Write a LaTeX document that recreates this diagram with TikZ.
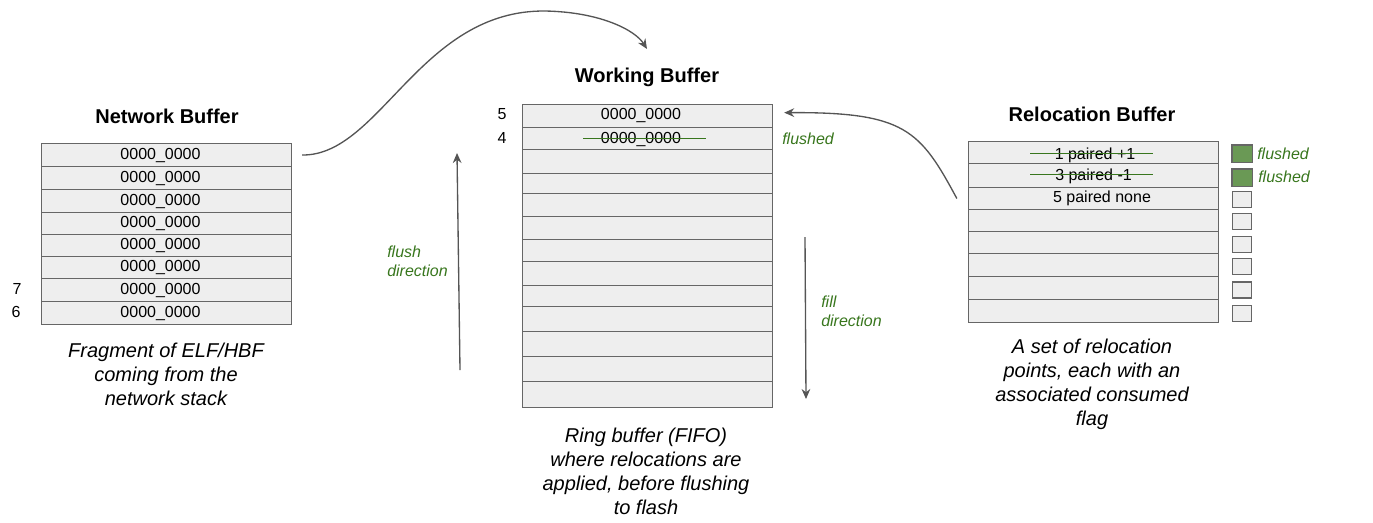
\documentclass[tikz,border=0pt]{standalone}
\usepackage{fontspec}
\setmainfont{Liberation Sans}
\usetikzlibrary{arrows.meta,positioning}

\definecolor{cellfill}{HTML}{EEEEEE}
\definecolor{cellline}{HTML}{666666}
\definecolor{flushgreen}{HTML}{38761D}
\definecolor{boxgreen}{HTML}{6A9955}
\definecolor{arrowgray}{HTML}{555555}

\tikzset{
  cell/.style={draw=cellline, fill=cellfill, line width=1pt, inner sep=0pt,
    minimum width=187.5pt},
  flagbox/.style={draw=cellline, fill=cellfill, line width=1pt, inner sep=0pt,
    minimum width=14.25pt, minimum height=12pt},
  title/.style={font=\bfseries\fontsize{15}{18}\selectfont},
  caption/.style={align=center, font=\itshape\fontsize{15}{18}\selectfont},
  note/.style={text=flushgreen, align=left, anchor=west, inner sep=0pt,
    font=\itshape\fontsize{12}{14.25}\selectfont},
  index/.style={inner sep=0pt, font=\fontsize{12}{14}\selectfont},
  strike/.style={flushgreen, line width=1pt},
  conn/.style={arrowgray, line width=1pt, -{Stealth[length=7.5pt, width=6.5pt]}}
}

\begin{document}
\begin{tikzpicture}[x=0.75pt, y=-0.75pt]
        \useasboundingbox (0, 0) rectangle (1373, 522);

        % network buffer
        \node[title] (nbtitle) at (167, 116) {Network Buffer};
        \foreach \i/\top/\bot in {1/143/166, 2/166/189, 3/189/212, 4/212/234,
                        5/234/256, 6/256/278, 7/278/301, 8/301/324} {
                \node[cell, minimum height={(\bot-\top)*0.75pt}] (nb\i) at (166.5, {(\top+\bot)/2+0.5}) {};
                \node[index] at ([xshift=-4.5pt]nb\i.center) {0000\_0000};
        }
        \node[index] (nbseven) at (17, 289) {7};
        \node[index] (nbsix) at (16, 312) {6};
        \node[caption] (nbcap) at (166, 374) {Fragment of ELF/HBF\\coming from the\\network stack};

        % working buffer
        \node[title] (wbtitle) at (647, 77) {Working Buffer};
        \foreach \i/\top/\bot in {1/104/127, 2/127/149, 3/149/173, 4/173/193, 5/193/216,
                        6/216/239, 7/239/261, 8/261/285, 9/285/306, 10/306/331,
                        11/331/356, 12/356/381, 13/381/407}
                \node[cell, minimum height={(\bot-\top)*0.75pt}] (wb\i) at (647.5, {(\top+\bot)/2+0.5}) {};
        \node[index] (wbtop) at (641, 115.5) {0000\_0000};
        \node[index] (wbstruck) at (641, 139.5) {0000\_0000};
        \draw[strike] (wbstruck.center) ++(-58, -1) -- ++(123, 0);
        \node[index] (wbfive) at (502, 114) {5};
        \node[index] (wbfour) at (502, 138) {4};
        \node[note] (wbflushed) at (782, 139) {flushed};
        \node[caption] (wbcap) at (646, 471) {Ring buffer (FIFO)\\where relocations are\\applied, before flushing\\to flash};

        % relocation buffer
        \node[title] (rbtitle) at (1092, 114) {Relocation Buffer};
        \foreach \i/\top/\bot in {1/141/163, 2/163/187, 3/187/209, 4/209/231,
                        5/231/253, 6/253/276, 7/276/299, 8/299/322}
                \node[cell, minimum height={(\bot-\top)*0.75pt}] (rb\i) at (1093.5, {(\top+\bot)/2+0.5}) {};
        \node[index] (rbone) at (1095, 155) {1 paired +1};
        \node[index] (rbtwo) at (1093.5, 176) {3 paired -1};
        \node[index] (rbthree) at (1102, 198.5) {5 paired none};
        \draw[strike] (rbone.center) ++(-65, -1.3) -- ++(123, 0);
        \draw[strike] (rbtwo.center) ++(-63.5, -1.3) -- ++(123, 0);
        \foreach \i/\y in {1/153.5, 2/177.5, 3/199.7, 4/221.5, 5/244.5, 6/266.7, 7/290, 8/313.3}
                \node[flagbox] (flag\i) at (1242, \y) {};
        \fill[boxgreen, draw=cellline, line width=1pt] (flag1.south west) rectangle (flag1.north east);
        \fill[boxgreen, draw=cellline, line width=1pt] (flag2.south west) rectangle (flag2.north east);
        \node[note] (flagone) at (1257, 154) {flushed};
        \node[note] (flagtwo) at (1258, 177) {flushed};
        \node[caption] (rbcap) at (1092, 384) {A set of relocation\\points, each with an\\associated consumed\\flag};

        % connectors
        \coordinate (wbin) at (647, 49);
        \draw[conn] ([xshift=7.5pt]nb1.east) .. controls (380, 156) and (420, 10) .. (545, 11)
                .. controls (600, 12) and (635, 30) .. (wbin);
        \draw[conn] ([xshift=-8.25pt]rb3.west) .. controls (920, 130) and (905, 112) .. ([xshift=8.25pt, yshift=2.5pt]wb1.east);

        \coordinate (flushfrom) at (460, 370);
        \coordinate (flushto) at (457, 153);
        \draw[conn] (flushfrom) -- (flushto);
        \node[note] (flushlabel) at (387, 261.5) {flush\\direction};

        \coordinate (fillfrom) at (805, 237);
        \coordinate (fillto) at (806, 399);
        \draw[conn] (fillfrom) -- (fillto);
        \node[note] (filllabel) at (821, 311.5) {fill\\direction};
\end{tikzpicture}
\end{document}
